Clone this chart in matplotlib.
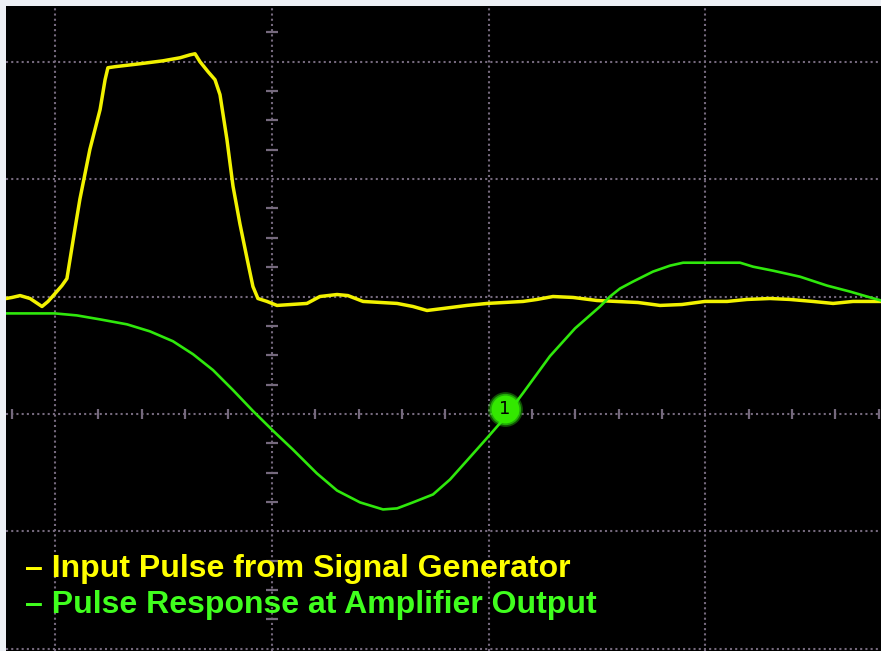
import matplotlib
matplotlib.use("Agg")
import matplotlib.pyplot as plt

# time in horizontal divisions, level in vertical divisions
input_t = [-0.226, -0.198, -0.161, -0.115, -0.060, -0.032, 0.000, 0.032, 0.055, 0.092,
           0.115, 0.161, 0.208, 0.231, 0.244, 0.277, 0.392, 0.498, 0.577, 0.623,
           0.646, 0.669, 0.706, 0.738, 0.761, 0.793, 0.821, 0.853, 0.886, 0.913,
           0.936, 0.978, 1.024, 1.162, 1.222, 1.301, 1.351, 1.421, 1.578, 1.651,
           1.716, 1.790, 1.900, 1.993, 2.159, 2.223, 2.297, 2.389, 2.500, 2.689,
           2.791, 2.892, 2.998, 3.100, 3.192, 3.298, 3.390, 3.496, 3.589, 3.681, 3.810]
input_v = [-0.017, -0.008, 0.008, -0.017, -0.085, -0.042, 0.025, 0.093, 0.153, 0.576,
           0.831, 1.254, 1.593, 1.847, 1.949, 1.958, 1.983, 2.008, 2.034, 2.059,
           2.068, 2.000, 1.915, 1.847, 1.720, 1.339, 0.941, 0.619, 0.322, 0.085,
           -0.017, -0.042, -0.076, -0.059, 0.000, 0.017, 0.008, -0.042, -0.059, -0.085,
           -0.119, -0.102, -0.076, -0.059, -0.042, -0.025, 0.000, -0.008, -0.034, -0.051,
           -0.076, -0.068, -0.042, -0.042, -0.025, -0.017, -0.025, -0.042, -0.059, -0.042, -0.042]

resp_t = [-0.226, 0.000, 0.101, 0.208, 0.332, 0.438, 0.544, 0.637, 0.729, 0.821,
          0.913, 1.006, 1.098, 1.208, 1.301, 1.407, 1.513, 1.578, 1.651, 1.744,
          1.822, 1.900, 2.006, 2.066, 2.159, 2.283, 2.399, 2.514, 2.560, 2.606,
          2.666, 2.758, 2.837, 2.897, 3.160, 3.220, 3.312, 3.436, 3.561, 3.667, 3.745, 3.810]
resp_v = [-0.144, -0.144, -0.161, -0.195, -0.237, -0.297, -0.381, -0.492, -0.627, -0.797,
          -0.975, -1.144, -1.305, -1.507, -1.653, -1.754, -1.814, -1.805, -1.754, -1.686,
          -1.559, -1.398, -1.178, -1.051, -0.822, -0.508, -0.271, -0.085, 0.000, 0.068,
          0.127, 0.212, 0.263, 0.288, 0.288, 0.254, 0.220, 0.169, 0.093, 0.042, 0.000, -0.034]

marker_t = [2.076]
marker_v = [-0.958]
marker_label = "1"

legend_lines = ["– Input Pulse from Signal Generator",
                "– Pulse Response at Amplifier Output"]
legend_colors = ["#FFFF00", "#40FF1E"]

grid_color = "#75697D"

fig = plt.figure(figsize=(8.81, 6.51), dpi=100, facecolor="#EDF0F5")
ax = fig.add_axes([6 / 881, 0, 875 / 881, 645 / 651])
ax.set_facecolor("black")
ax.set_xlim(-0.226, 3.810)
ax.set_ylim(-3.02, 2.475)
ax.set_xticks([])
ax.set_yticks([])
for s in ax.spines.values():
    s.set_visible(False)

# graticule
for gx in range(0, 4):
    ax.axvline(gx, color=grid_color, lw=1.5, ls=(0, (1, 1.5)), zorder=1)
for gy in range(-3, 3):
    ax.axhline(gy, color=grid_color, lw=1.5, ls=(0, (1, 1.5)), zorder=1)

# minor ticks on the centre axes
tx = [k / 5 for k in range(-1, 20) if k % 5 != 0]
ax.plot(tx, [-1] * len(tx), ls="none", marker="|", ms=7.5, mew=1.6, color=grid_color, zorder=1)
ty = [k / 4 for k in range(-12, 10) if k % 4 != 0]
ax.plot([1] * len(ty), ty, ls="none", marker="_", ms=9, mew=1.6, color=grid_color, zorder=1)

# traces
ax.plot(input_t, input_v, color="#F2F200", lw=2.5, zorder=3, solid_joinstyle="round")
ax.plot(resp_t, resp_v, color="#2FE80C", lw=1.9, zorder=3, solid_joinstyle="round")

# marker "1" with a soft glow
ax.plot(marker_t, marker_v, marker="o", ms=25, color="#2FE80C", alpha=0.35, mew=0, ls="none", zorder=4)
ax.plot(marker_t, marker_v, marker="o", ms=22.5, color="#2FE80C", alpha=0.6, mew=0, ls="none", zorder=4)
ax.plot(marker_t, marker_v, marker="o", ms=20, color="#33E800", mew=0, ls="none", zorder=5)
ax.text(marker_t[0], marker_v[0], marker_label, color="black", fontsize=13,
        ha="center", va="center", zorder=6, family="DejaVu Sans")

# legend text
for i, (txt, col) in enumerate(zip(legend_lines, legend_colors)):
    fig.text(25 / 881, 1 - (577 + 36 * i) / 651, txt, color=col, fontsize=23.0,
             fontweight="bold", family="Liberation Sans", ha="left", va="baseline")

fig.savefig("out.png", dpi=100, facecolor=fig.get_facecolor())
